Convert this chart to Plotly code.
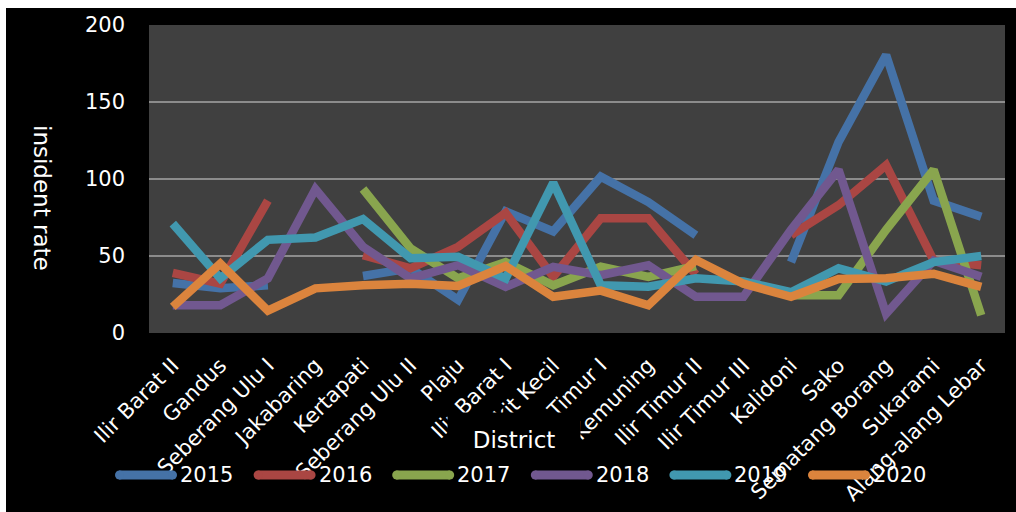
import plotly.graph_objects as go

districts = [
    "Ilir Barat II", "Gandus", "Seberang Ulu I", "Jakabaring", "Kertapati",
    "Seberang Ulu II", "Plaju", "Ilir Barat I", "Bukit Kecil", "Ilir Timur I",
    "Kemuning", "Ilir Timur II", "Ilir Timur III", "Kalidoni", "Sako",
    "Sematang Borang", "Sukarami", "Alang-alang Lebar",
]

rate_2015 = [32.5, 29, 31, None, 37, 42, 21.5, 79, 66, 101.5, 85, 63.5, None, 46, 124, 180.5, 86, 75.5]
rate_2016 = [39, 32, 86, None, 50.5, 42, 56, 78, 36.5, 74.5, 74.5, 38, None, 63.5, 83, 109, 47, 44]
rate_2017 = [None, None, None, None, 93.5, 55, 35.5, 46, 31, 43, 36.5, 43.5, None, 24.5, 24.5, 67, 106, 11.5]
rate_2018 = [18, 18, 35.5, 93.5, 56, 35.5, 44, 30, 43, 37.5, 44, 23.5, 23.5, 67, 106, 12.5, 47, 36.5]
rate_2019 = [71, 35.5, 60.5, 62, 74, 48.5, 49.5, 35.5, 97.5, 31, 30, 35.5, 33.5, 26.5, 42, 33.5, 46, 50]
rate_2020 = [17, 45, 14.5, 29, 31, 32, 30.5, 43.5, 23.5, 27.5, 18, 47.5, 32, 23.5, 35, 35.5, 38.5, 30]

years = ["2015", "2016", "2017", "2018", "2019", "2020"]
series = [rate_2015, rate_2016, rate_2017, rate_2018, rate_2019, rate_2020]
colors = ["#4572A7", "#AA4643", "#89A54E", "#71588F", "#4198AF", "#DB843D"]

FONT = "DejaVu Sans"
W, H = 1016, 512
L, R, T, B = 149, 11, 25, 179
PW, PH = W - L - R, H - T - B


def px_x(x):
    """Pixel column -> paper x."""
    return (x - L) / PW


def px_y(y):
    """Pixel row (from top) -> paper y."""
    return (H - B - y) / PH


fig = go.Figure()
for name, vals, col in zip(years, series, colors):
    fig.add_trace(go.Scatter(
        x=districts, y=vals, name=name, mode="lines",
        line=dict(color=col, width=8.5),
        connectgaps=False, hoverinfo="skip", showlegend=False,
    ))

fig.update_layout(
    width=W, height=H,
    margin=dict(l=L, r=R, t=T, b=B, autoexpand=False),
    paper_bgcolor="#000000",
    plot_bgcolor="#404040",
    font=dict(family=FONT, color="#FFFFFF", size=20),
    showlegend=False,
    xaxis=dict(
        type="category", tickangle=-45, showgrid=False, zeroline=False,
        showline=False, ticks="", tickfont=dict(size=21, color="#FFFFFF"),
        range=[-0.5, len(districts) - 0.5], automargin=False,
        ticklabelstandoff=15,
    ),
    yaxis=dict(
        range=[0, 200], dtick=50, showgrid=True, gridcolor="#8C8C8C",
        gridwidth=2, zeroline=False, showline=False, ticks="",
        tickfont=dict(size=21, color="#FFFFFF"), ticklabelstandoff=23,
        automargin=False,
    ),
)

# y-axis title, reading top to bottom
fig.add_annotation(
    text="insident rate", xref="paper", yref="paper",
    x=px_x(42), y=px_y(198), showarrow=False,
    textangle=90, font=dict(size=23, color="#FFFFFF", family=FONT),
    xanchor="center", yanchor="middle",
)

# x-axis title on an opaque box
fig.add_annotation(
    text="District", xref="paper", yref="paper",
    x=px_x(514), y=px_y(440), showarrow=False,
    font=dict(size=23, color="#FFFFFF", family=FONT),
    bgcolor="#000000", width=130, height=52,
    xanchor="center", yanchor="middle",
)

# legend row: thick line swatch followed by the year
LEG_X0, LEG_STEP, LEG_Y, SWATCH = 115, 138.6, 475, 62
for i, (name, col) in enumerate(zip(years, colors)):
    x0 = LEG_X0 + i * LEG_STEP
    fig.add_shape(type="line", xref="paper", yref="paper",
                  x0=px_x(x0 + 4), x1=px_x(x0 + SWATCH - 4),
                  y0=px_y(LEG_Y), y1=px_y(LEG_Y),
                  line=dict(color=col, width=9), layer="above")
    fig.add_shape(type="circle", xref="paper", yref="paper",
                  x0=px_x(x0), x1=px_x(x0 + 9),
                  y0=px_y(LEG_Y + 4.5), y1=px_y(LEG_Y - 4.5),
                  fillcolor=col, line=dict(width=0), layer="above")
    fig.add_shape(type="circle", xref="paper", yref="paper",
                  x0=px_x(x0 + SWATCH - 9), x1=px_x(x0 + SWATCH),
                  y0=px_y(LEG_Y + 4.5), y1=px_y(LEG_Y - 4.5),
                  fillcolor=col, line=dict(width=0), layer="above")
    fig.add_annotation(text=name, xref="paper", yref="paper",
                       x=px_x(x0 + SWATCH + 1), y=px_y(LEG_Y),
                       showarrow=False, xanchor="left", yanchor="middle",
                       font=dict(size=21, color="#FFFFFF", family=FONT))

# white page edges at the top and left
fig.add_shape(type="rect", xref="paper", yref="paper",
              x0=px_x(-5), x1=px_x(W + 5), y0=px_y(8), y1=px_y(-5),
              fillcolor="#FFFFFF", line=dict(width=0), layer="above")
fig.add_shape(type="rect", xref="paper", yref="paper",
              x0=px_x(-5), x1=px_x(6), y0=px_y(H + 5), y1=px_y(-5),
              fillcolor="#FFFFFF", line=dict(width=0), layer="above")

fig.write_html("out.html")
